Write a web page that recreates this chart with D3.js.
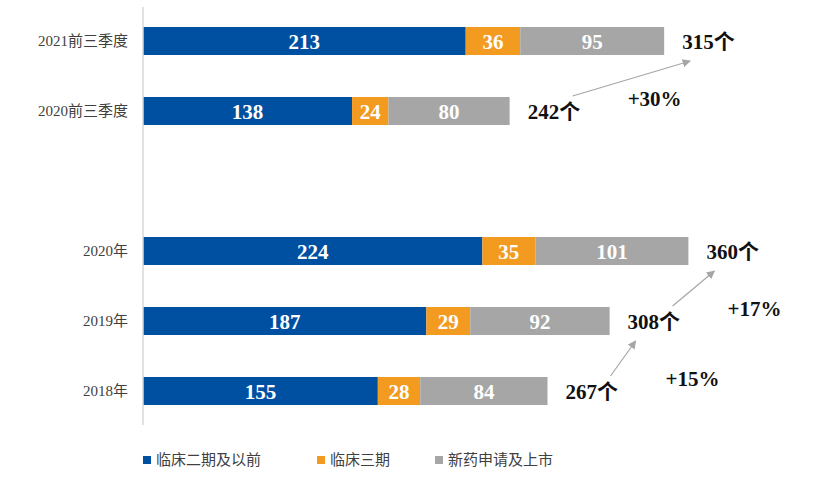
<!DOCTYPE html>
<html>
<head>
<meta charset="utf-8">
<script src="https://cdn.jsdelivr.net/npm/d3@7"></script>
<style>
    body { margin: 0; background: #fff; }
    svg { display: block; }
</style>
</head>
<body>
<div id="chart"></div>
<script>
(function() {
    'use strict';

    // rows top to bottom, the blank one is the gap between the two groups
    const categories = ["2021前三季度", "2020前三季度", "", "2020年", "2019年", "2018年"];
    const seriesNames = ["临床二期及以前", "临床三期", "新药申请及上市"];
    const phase2 = [213, 138, null, 224, 187, 155];
    const phase3 = [36, 24, null, 35, 29, 28];
    const nda = [95, 80, null, 101, 92, 84];
    const totalLabels = ["315个", "242个", null, "360个", "308个", "267个"];
    // growth arrows: [from row, to row, label]
    const growth = [
        [1, 0, "+30%"],
        [4, 3, "+17%"],
        [5, 4, "+15%"]
    ];
    const colors = ["#0050a2", "#f39b21", "#a6a6a6"];

    const width = 818;
    const height = 485;
    const marginLeft = 143;

    const rows = categories.map((c, i) => ({
        key: "r" + i,
        name: c,
        values: [phase2[i], phase3[i], nda[i]],
        total: totalLabels[i]
    }));

    const svg = d3.select("#chart")
        .append("svg")
        .attr("width", width)
        .attr("height", height);

    svg.append("defs").append("marker")
        .attr("id", "arrow")
        .attr("viewBox", "0 0 10 10")
        .attr("refX", 9)
        .attr("refY", 5)
        .attr("markerWidth", 7)
        .attr("markerHeight", 7)
        .attr("orient", "auto")
        .append("path")
        .attr("d", "M0,0L10,5L0,10z")
        .attr("fill", "#a6a6a6");

    // X SCALE
    const x = d3.scaleLinear()
        .domain([0, 400])
        .range([marginLeft, marginLeft + 606]);

    // Y SCALE
    const y = d3.scaleBand()
        .domain(rows.map(d => d.key))
        .range([6, 426])
        .paddingInner(0.6)
        .paddingOuter(0.3);

    const cy = i => y(rows[i].key) + y.bandwidth() / 2;

    // stacked segments
    const segs = [];
    rows.forEach(r => {
        let acc = 0;
        r.values.forEach((v, k) => {
            if (v == null) return;
            segs.push({ key: r.key, k: k, v: v, x0: acc, x1: acc + v });
            acc += v;
        });
        r.sum = acc;
    });

    svg.append("g")
        .selectAll("rect")
        .data(segs)
        .join("rect")
        .attr("x", d => x(d.x0))
        .attr("y", d => y(d.key))
        .attr("width", d => x(d.x1) - x(d.x0))
        .attr("height", y.bandwidth())
        .attr("fill", d => colors[d.k]);

    // value labels in bars
    svg.append("g")
        .selectAll("text")
        .data(segs)
        .join("text")
        .attr("x", d => (x(d.x0) + x(d.x1)) / 2)
        .attr("y", d => y(d.key) + y.bandwidth() / 2)
        .attr("dy", "0.36em")
        .attr("text-anchor", "middle")
        .attr("fill", "white")
        .attr("font-family", "'Liberation Serif', 'Noto Sans CJK SC', serif")
        .attr("font-weight", "bold")
        .attr("font-size", "21px")
        .text(d => d.v);

    // Y AXIS
    svg.append("g")
        .attr("transform", `translate(${marginLeft}, 0)`)
        .call(d3.axisLeft(y).tickSize(0).tickPadding(15).tickFormat((d, i) => categories[i]))
        .call(g => g.select(".domain").attr("d", "M0,7V425").attr("stroke", "#d9d9d9").attr("stroke-width", 1.5))
        .selectAll("text")
        .attr("fill", "#404040")
        .attr("font-family", "'Liberation Serif', 'Noto Sans CJK SC', serif")
        .attr("font-size", "15px");

    // total labels
    const labelX = i => x(rows[i].sum) + 18;
    svg.append("g")
        .selectAll("text")
        .data(rows.filter(r => r.total))
        .join("text")
        .attr("x", d => x(d.sum) + 18)
        .attr("y", d => y(d.key) + y.bandwidth() / 2)
        .attr("dy", "0.36em")
        .attr("fill", "#111")
        .attr("font-family", "'Liberation Serif', 'Noto Sans CJK SC', serif")
        .attr("font-weight", "bold")
        .attr("font-size", "21px")
        .text(d => d.total);

    // growth arrows
    const ga = svg.append("g");
    growth.forEach(g => {
        const x1 = labelX(g[0]) + 45, y1 = cy(g[0]) - 15;
        const x2 = labelX(g[1]) + 8, y2 = cy(g[1]) + 20;
        ga.append("line")
            .attr("x1", x1).attr("y1", y1)
            .attr("x2", x2).attr("y2", y2)
            .attr("stroke", "#a6a6a6")
            .attr("stroke-width", 1.2)
            .attr("marker-end", "url(#arrow)");
        ga.append("text")
            .attr("x", x1 + 55)
            .attr("y", y1 + 2)
            .attr("dy", "0.36em")
            .attr("fill", "#111")
            .attr("font-family", "'Liberation Serif', serif")
            .attr("font-weight", "bold")
            .attr("font-size", "21px")
            .text(g[2]);
    });

    // legend
    const legendX = [143, 317, 435];
    const legend = svg.append("g")
        .selectAll("g")
        .data(seriesNames)
        .join("g")
        .attr("transform", (d, i) => `translate(${legendX[i]}, 460)`);

    legend.append("rect")
        .attr("x", 0).attr("y", -4)
        .attr("width", 8).attr("height", 8)
        .attr("fill", (d, i) => colors[i]);

    legend.append("text")
        .attr("x", 13)
        .attr("dy", "0.36em")
        .attr("fill", "#404040")
        .attr("font-family", "'Liberation Serif', 'Noto Sans CJK SC', serif")
        .attr("font-size", "15px")
        .text(d => d);
})();
</script>
</body>
</html>
